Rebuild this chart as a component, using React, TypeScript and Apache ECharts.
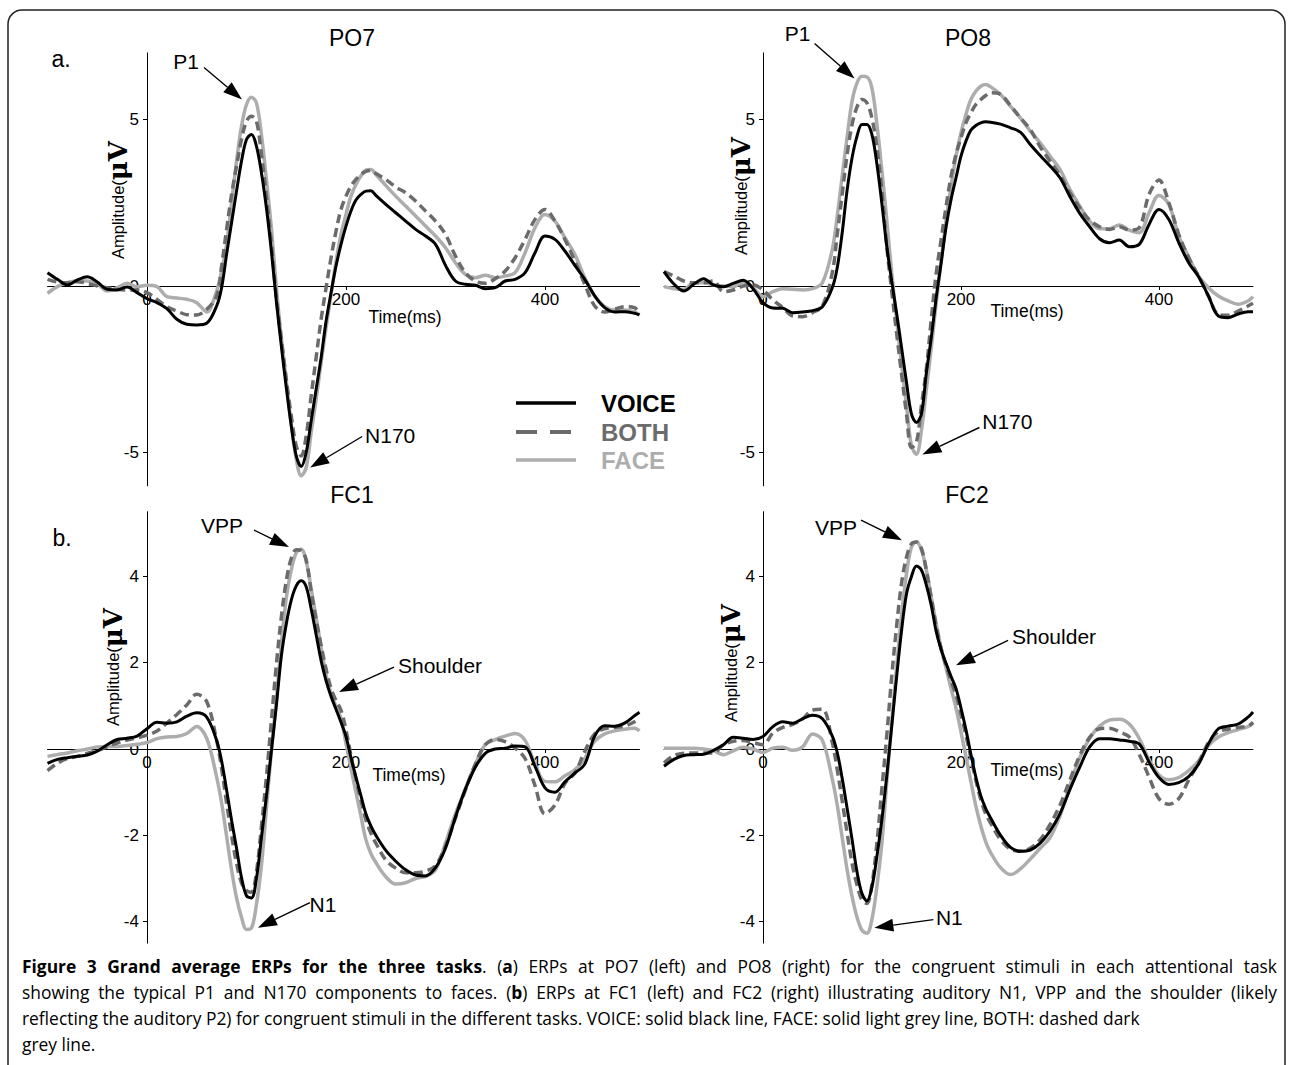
import React, { useEffect, useRef } from "react";
import * as echarts from "echarts";

// time axis (ms)
const times = [
  -100, -90, -80, -70, -60, -50, -40, -30, -20, -10,
  0, 10, 20, 30, 40, 50, 60,
  70, 75, 80, 85, 90, 95, 100, 105, 110, 115,
  120, 125, 130, 135, 140, 145, 150, 155, 160, 165,
  170, 175, 180, 185, 190, 195, 200, 205, 210, 215,
  220, 225, 230,
  240, 250, 260, 270, 280, 290, 300, 310, 320, 330,
  340, 350, 360, 370, 380, 390, 400, 410, 420, 430,
  440, 450, 460, 470, 480, 490,
  495,
];

// PO7
const po7Voice = [
  0.4, 0.2, 0.03, 0.18, 0.28, 0.12, -0.1, -0.12, -0.03, -0.2,
  -0.38, -0.5, -0.68, -1.0, -1.15, -1.17, -1.12,
  -0.6, -0.05, 0.95, 1.9, 2.85, 3.75, 4.4, 4.55, 4.2, 3.4,
  2.35, 1.05, -0.45, -1.8, -3.05, -4.2, -5.1, -5.42, -5.0, -4.05,
  -3.1, -2.15, -1.05, -0.2, 0.6, 1.25, 1.8, 2.25, 2.58, 2.75,
  2.85, 2.86, 2.72,
  2.45, 2.2, 1.95, 1.7, 1.5, 1.25, 0.62, 0.15, 0.05, 0.02,
  -0.08, -0.05, 0.15, 0.2, 0.4, 1.0, 1.5, 1.4, 1.05, 0.62,
  0.2, -0.3, -0.65, -0.78, -0.77, -0.82,
  -0.87,
];
const po7Both = [
  0.2, 0.12, 0.1, 0.13, 0.08, 0.0, -0.05, -0.1, -0.12, -0.12,
  -0.2, -0.4, -0.62, -0.75, -0.86, -0.87, -0.7,
  -0.3, 0.6, 1.7, 2.75, 3.6, 4.4, 4.95, 5.1, 4.95, 3.95,
  2.7, 1.27, -0.35, -1.6, -2.8, -3.9, -4.8, -5.1, -4.5, -3.3,
  -2.15, -1.0, -0.05, 0.85, 1.65, 2.3, 2.7, 3.0, 3.2, 3.35,
  3.44, 3.47, 3.38,
  3.2, 2.97, 2.8, 2.55, 2.25, 1.95, 1.55, 0.9, 0.4, 0.15,
  0.08, 0.22, 0.45, 0.85, 1.4, 2.0, 2.3, 1.95, 1.4, 0.75,
  0.05, -0.6, -0.78, -0.7, -0.62, -0.65,
  -0.82,
];
const po7Face = [
  -0.22, -0.02, 0.1, 0.16, 0.15, 0.07, -0.15, -0.05, 0.08, -0.02,
  0.02, -0.02, -0.32, -0.36, -0.4, -0.5, -0.78,
  -0.15, 0.45, 1.25, 2.5, 3.75, 4.8, 5.45, 5.67, 5.5, 4.55,
  3.2, 1.75, -0.05, -1.55, -2.85, -4.15, -5.2, -5.7, -5.45, -4.4,
  -3.4, -2.3, -1.25, -0.25, 0.75, 1.55, 2.15, 2.7, 3.05, 3.3,
  3.48, 3.5, 3.35,
  3.02, 2.7, 2.4, 2.1, 1.8, 1.5, 1.15, 0.7, 0.35, 0.25,
  0.32, 0.25, 0.3, 0.4, 1.0, 1.75, 2.15, 1.95, 1.45, 0.95,
  0.25, -0.3, -0.62, -0.72, -0.72, -0.78,
  -0.87,
];

// PO8
const po8Voice = [
  0.43, 0.06, -0.15, 0.05, 0.22, 0.03, -0.02, 0.08, 0.17, -0.08,
  -0.5, -0.66, -0.67, -0.8, -0.78, -0.74, -0.62,
  -0.05, 0.55, 1.6, 2.88, 3.85, 4.5, 4.85, 4.85, 4.55, 3.68,
  2.5, 1.2, 0.15, -0.82, -1.85, -2.9, -3.85, -4.1, -3.85, -2.62,
  -1.55, -0.35, 0.7, 1.78, 2.6, 3.25, 3.9, 4.35, 4.68, 4.82,
  4.9, 4.93, 4.92,
  4.86, 4.75, 4.62, 4.25, 3.92, 3.6, 3.25, 2.69, 2.18, 1.78,
  1.42, 1.3, 1.38, 1.18, 1.25, 1.85, 2.3, 2.0, 1.3, 0.7,
  0.28, -0.3, -0.9, -0.95, -0.84, -0.77,
  -0.77,
];
const po8Both = [
  0.43, 0.3, 0.15, 0.1, 0.1, 0.15, -0.17, -0.12, 0.0, 0.03,
  -0.12, -0.42, -0.65, -0.9, -0.92, -0.8, -0.6,
  0.4, 1.55, 2.75, 3.95, 4.85, 5.38, 5.6, 5.5, 5.05, 4.18,
  2.9, 1.2, -0.15, -1.42, -2.65, -3.85, -4.85, -4.7, -3.6, -2.5,
  -1.0, 0.38, 1.4, 2.4, 3.3, 3.95, 4.45, 4.9, 5.2, 5.45,
  5.6, 5.72, 5.8,
  5.75, 5.42, 5.05, 4.7, 4.18, 3.75, 3.33, 2.8, 2.35, 1.98,
  1.78, 1.7, 1.78, 1.68, 1.75, 2.75, 3.18, 2.5, 1.55, 0.85,
  0.3, -0.3, -0.85, -0.88, -0.75, -0.6,
  -0.52,
];
const po8Face = [
  -0.02, -0.08, -0.1, 0.1, 0.1, 0.03, 0.0, -0.02, 0.12, -0.05,
  -0.32, -0.17, -0.08, -0.1, -0.12, -0.08, 0.1,
  1.1, 2.1, 3.3, 4.48, 5.55, 6.1, 6.3, 6.28, 5.95, 4.88,
  3.5, 2.0, 0.4, -1.02, -2.35, -3.6, -4.8, -5.05, -4.35, -3.12,
  -1.85, -0.5, 0.75, 1.98, 3.0, 3.9, 4.6, 5.15, 5.6, 5.85,
  6.0, 6.05, 5.98,
  5.75, 5.4, 5.05, 4.65, 4.3, 3.9, 3.5, 2.9, 2.4, 1.95,
  1.72, 1.72, 1.83, 1.68, 1.6, 2.2, 2.72, 2.45, 1.5, 0.88,
  0.3, -0.05, -0.3, -0.45, -0.55, -0.45,
  -0.32,
];

// FC1
const fc1Voice = [
  -0.33, -0.24, -0.2, -0.17, -0.14, -0.05, 0.1, 0.22, 0.25, 0.3,
  0.47, 0.62, 0.6, 0.63, 0.76, 0.84, 0.74,
  0.2, -0.28, -0.95, -1.65, -2.3, -2.98, -3.4, -3.45, -3.0, -2.05,
  -1.1, -0.05, 1.0, 2.15, 2.9, 3.45, 3.78, 3.9, 3.76, 3.25,
  2.65, 2.05, 1.58, 1.22, 0.92, 0.62, 0.29, -0.2, -0.65, -1.08,
  -1.5, -1.78, -2.0,
  -2.35, -2.6, -2.8, -2.92, -2.94, -2.75, -2.3, -1.58, -0.93, -0.42,
  -0.1, 0.0, 0.02, 0.07, 0.05, -0.4, -0.9, -1.0, -0.76, -0.56,
  -0.35, 0.3, 0.54, 0.53, 0.6, 0.77,
  0.85,
];
const fc1Both = [
  -0.5, -0.33, -0.22, -0.17, -0.1, -0.04, 0.05, 0.14, 0.21, 0.26,
  0.32, 0.42, 0.6, 0.8, 1.02, 1.27, 1.1,
  0.2, -0.45, -1.25, -2.0, -2.65, -3.1, -3.28, -3.32, -2.85, -1.8,
  -0.65, 0.65, 1.95, 3.05, 3.9, 4.42, 4.62, 4.6, 4.38, 3.65,
  3.0, 2.4, 1.85, 1.4, 1.12, 0.9, 0.44, -0.15, -0.7, -1.18,
  -1.64, -1.95, -2.18,
  -2.57, -2.76, -2.87, -2.87, -2.83, -2.7, -2.25, -1.6, -0.95, -0.35,
  0.1, 0.22, 0.17, 0.02, -0.22, -0.85, -1.5, -1.3, -0.8, -0.56,
  -0.05, 0.35, 0.47, 0.5, 0.53, 0.63,
  0.72,
];
const fc1Face = [
  -0.17, -0.13, -0.09, -0.04, 0.0, 0.05, 0.06, 0.06, 0.08, 0.11,
  0.15, 0.24, 0.28, 0.29, 0.36, 0.52, 0.25,
  -0.65, -1.25, -2.02, -2.8, -3.45, -3.9, -4.18, -4.15, -3.6, -2.7,
  -1.38, -0.05, 1.15, 2.42, 3.5, 4.15, 4.55, 4.63, 4.35, 3.72,
  3.05, 2.35, 1.72, 1.28, 0.98, 0.7, 0.13, -0.45, -1.0, -1.55,
  -2.1, -2.42, -2.63,
  -2.96, -3.13, -3.1, -3.0, -2.95, -2.8, -2.18, -1.5, -0.92, -0.35,
  0.1, 0.22, 0.3, 0.36, 0.2, -0.35, -0.75, -0.76, -0.62, -0.48,
  -0.22, 0.18, 0.35, 0.42, 0.46, 0.48,
  0.42,
];

// FC2
const fc2Voice = [
  -0.4, -0.24, -0.15, -0.13, -0.12, -0.03, 0.1, 0.27, 0.25, 0.22,
  0.29, 0.52, 0.63, 0.6, 0.7, 0.78, 0.7,
  0.3, -0.08, -0.68, -1.38, -2.1, -2.85, -3.35, -3.52, -3.2, -2.5,
  -1.65, -0.63, 0.52, 1.67, 2.75, 3.6, 4.0, 4.24, 4.15, 3.8,
  3.33, 2.72, 2.3, 1.98, 1.68, 1.4, 0.95, 0.45, -0.12, -0.65,
  -1.08, -1.38, -1.6,
  -2.0, -2.28, -2.37, -2.34, -2.18, -1.9, -1.5, -0.94, -0.42, 0.05,
  0.24, 0.24, 0.21, 0.18, 0.12, -0.3, -0.66, -0.82, -0.78, -0.64,
  -0.35, 0.12, 0.47, 0.53, 0.58, 0.74,
  0.86,
];
const fc2Both = [
  -0.32, -0.15, -0.1, -0.09, -0.09, -0.09, 0.1, 0.18, 0.2, 0.15,
  0.1, 0.37, 0.5, 0.57, 0.7, 0.9, 0.92,
  0.15, -0.48, -1.2, -1.95, -2.65, -3.15, -3.5, -3.58, -3.15, -2.2,
  -0.95, 0.3, 1.67, 2.85, 3.85, 4.45, 4.76, 4.8, 4.65, 4.15,
  3.5, 2.85, 2.32, 1.93, 1.58, 1.25, 0.8, 0.32, -0.2, -0.72,
  -1.17, -1.5, -1.72,
  -2.1, -2.32, -2.37, -2.3, -2.1, -1.75, -1.3, -0.72, -0.15, 0.27,
  0.47, 0.48, 0.4, 0.28, -0.12, -0.65, -1.15, -1.28, -1.15, -0.72,
  -0.32, 0.15, 0.4, 0.46, 0.5, 0.53,
  0.62,
];
const fc2Face = [
  0.02, 0.02, 0.02, 0.02, 0.0, -0.04, -0.13, -0.04, 0.04, 0.0,
  -0.08, 0.02, 0.04, -0.03, 0.05, 0.35, 0.2,
  -0.7, -1.3, -2.05, -2.8, -3.42, -3.9, -4.2, -4.27, -3.95, -3.2,
  -2.2, -0.77, 0.6, 1.9, 3.1, 4.07, 4.68, 4.8, 4.62, 4.15,
  3.52, 2.9, 2.33, 1.87, 1.4, 0.95, 0.4, -0.17, -0.75, -1.32,
  -1.78, -2.15, -2.4,
  -2.75, -2.91, -2.78, -2.55, -2.3, -2.05, -1.55, -0.85, -0.2, 0.25,
  0.53, 0.67, 0.69, 0.58, 0.25, -0.25, -0.6, -0.71, -0.66, -0.5,
  -0.28, 0.08, 0.28, 0.38, 0.45, 0.52,
  0.6,
];

const legendNames = ["VOICE", "BOTH", "FACE"];
const xTickValues = [0, 200, 400];
const poYTicks = [-5, 0, 5];
const fcYTicks = [-4, -2, 0, 2, 4];

// caption: [bold?, text] segments per line
const captionLines: { justify: boolean; segs: [boolean, string][] }[] = [
  {
    justify: true,
    segs: [
      [true, "Figure 3 Grand average ERPs for the three tasks"],
      [false, ". ("],
      [true, "a"],
      [false, ") ERPs at PO7 (left) and PO8 (right) for the congruent stimuli in each attentional task"],
    ],
  },
  {
    justify: true,
    segs: [
      [false, "showing the typical P1 and N170 components to faces. ("],
      [true, "b"],
      [false, ") ERPs at FC1 (left) and FC2 (right) illustrating auditory N1, VPP and the shoulder (likely"],
    ],
  },
  {
    justify: false,
    segs: [[false, "reflecting the auditory P2) for congruent stimuli in the different tasks. VOICE: solid black line, FACE: solid light grey line, BOTH: dashed dark"]],
  },
  { justify: false, segs: [[false, "grey line."]] },
];

const FONT = "'Liberation Sans', Arial, Helvetica, sans-serif";
const CAP_FONT = "'Open Sans', 'Noto Sans', sans-serif";
const CAP_SIZE = 17.4;
const C_VOICE = "#000000";
const C_BOTH = "#6b6b6b";
const C_FACE = "#adadad";
const X_MIN = -100;
const X_MAX = 495;

const panels = [
  {
    title: "PO7", voice: po7Voice, both: po7Both, face: po7Face, yMin: -6, yMax: 7, yTicks: poYTicks,
    box: { left: 47.5, top: 52.9, width: 592, height: 432.9 },
    titlePos: [352, 38], timePos: [405, 317], ampPos: [118, 200],
  },
  {
    title: "PO8", voice: po8Voice, both: po8Both, face: po8Face, yMin: -6, yMax: 7, yTicks: poYTicks,
    box: { left: 664, top: 52.9, width: 589, height: 432.9 },
    titlePos: [968, 38], timePos: [1027, 311], ampPos: [741, 196],
  },
  {
    title: "FC1", voice: fc1Voice, both: fc1Both, face: fc1Face, yMin: -4.5, yMax: 5.5, yTicks: fcYTicks,
    box: { left: 47.5, top: 511.7, width: 592, height: 431.5 },
    titlePos: [352, 495], timePos: [409, 775], ampPos: [113, 667],
  },
  {
    title: "FC2", voice: fc2Voice, both: fc2Both, face: fc2Face, yMin: -4.5, yMax: 5.5, yTicks: fcYTicks,
    box: { left: 664, top: 511.7, width: 589, height: 431.5 },
    titlePos: [967, 495], timePos: [1027, 770], ampPos: [731, 663],
  },
];

const annotations = [
  { panel: 0, text: "P1", tip: [95.5, 5.6], tail: [-38, -32], label: [-56, -38] },
  { panel: 0, text: "N170", tip: [164, -5.45], tail: [52, -31], label: [80, -32] },
  { panel: 1, text: "P1", tip: [92.5, 6.23], tail: [-40, -35], label: [-57, -45] },
  { panel: 1, text: "N170", tip: [161, -5.06], tail: [57, -27], label: [85, -33] },
  { panel: 2, text: "VPP", tip: [142.7, 4.68], tail: [-35, -17], label: [-67, -22] },
  { panel: 2, text: "Shoulder", tip: [193, 1.32], tail: [55, -25], label: [101, -27] },
  { panel: 2, text: "N1", tip: [111.5, -4.14], tail: [52, -25], label: [65, -23] },
  { panel: 3, text: "VPP", tip: [140.4, 4.84], tail: [-41, -20], label: [-66, -13] },
  { panel: 3, text: "Shoulder", tip: [195, 1.94], tail: [52, -25], label: [98, -29] },
  { panel: 3, text: "N1", tip: [112.5, -4.14], tail: [59, -8], label: [75, -10] },
];

function txt(x: number, y: number, text: string, size: number, extra: any = {}) {
  const weight = extra.weight || "normal";
  const family = extra.family || FONT;
  return {
    type: "text",
    x,
    y,
    silent: true,
    style: {
      text,
      fill: extra.fill || "#000",
      font: `${weight} ${size}px ${family}`,
      fontSize: size,
      fontFamily: family,
      fontWeight: weight,
      align: extra.align || "center",
      textAlign: extra.align || "center",
      verticalAlign: "middle",
      textVerticalAlign: "middle",
    },
  };
}

export default function App() {
  const ref = useRef<HTMLDivElement>(null);

  useEffect(() => {
    if (!ref.current) return;
    const chart = echarts.init(ref.current, null, { renderer: "svg" });

    const grids = panels.map((p) => ({ ...p.box, containLabel: false }));
    const xAxes = panels.map((p, i) => ({
      type: "value",
      gridIndex: i,
      min: X_MIN,
      max: X_MAX,
      position: "bottom",
      offset: -((0 - p.yMin) / (p.yMax - p.yMin)) * p.box.height,
      axisLine: { onZero: false, lineStyle: { color: "#000", width: 1 } },
      axisTick: { show: true, customValues: xTickValues, length: 4, lineStyle: { color: "#000" } },
      axisLabel: { customValues: xTickValues, color: "#000", fontSize: 17, fontFamily: FONT, margin: 5 },
      splitLine: { show: false },
    }));
    const yAxes = panels.map((p, i) => ({
      type: "value",
      gridIndex: i,
      min: p.yMin,
      max: p.yMax,
      position: "left",
      offset: -((0 - X_MIN) / (X_MAX - X_MIN)) * p.box.width,
      axisLine: { onZero: false, lineStyle: { color: "#000", width: 1 } },
      axisTick: { show: true, customValues: p.yTicks, length: 4, lineStyle: { color: "#000" } },
      axisLabel: { customValues: p.yTicks, color: "#000", fontSize: 17, fontFamily: FONT, margin: 8 },
      splitLine: { show: false },
    }));

    const series: any[] = [];
    panels.forEach((p, i) => {
      const mk = (name: string, arr: number[], color: string, width: number, type: any, z: number) => ({
        type: "line",
        name,
        xAxisIndex: i,
        yAxisIndex: i,
        data: times.map((t, k) => [t, arr[k]]),
        showSymbol: false,
        symbol: "none",
        smooth: 0.35,
        silent: true,
        z,
        lineStyle: { color, width, type },
        itemStyle: { color },
      });
      series.push(mk(legendNames[2], p.face, C_FACE, 3.5, "solid", 2));
      series.push(mk(legendNames[1], p.both, C_BOTH, 3.5, [9, 5], 3));
      series.push(mk(legendNames[0], p.voice, C_VOICE, 3, "solid", 4));
    });

    chart.setOption({
      animation: false,
      backgroundColor: "#ffffff",
      grid: grids,
      xAxis: xAxes,
      yAxis: yAxes,
      series,
    });

    const g: any[] = [];
    g.push({
      type: "rect",
      silent: true,
      shape: { x: 8, y: 10, width: 1277, height: 1075, r: [14, 14, 0, 0] },
      style: { fill: "none", stroke: "#222", lineWidth: 1.5 },
    });
    g.push(txt(61, 59, "a.", 23));
    g.push(txt(62, 538, "b.", 23));

    panels.forEach((p) => {
      g.push(txt(p.titlePos[0], p.titlePos[1], p.title, 23));
      g.push(txt(p.timePos[0], p.timePos[1], "Time(ms)", 17.5));
      g.push({
        type: "text",
        x: p.ampPos[0],
        y: p.ampPos[1],
        rotation: Math.PI / 2,
        silent: true,
        style: {
          text: "{a|Amplitude(}{m|μV}",
          align: "center",
          textAlign: "center",
          verticalAlign: "middle",
          textVerticalAlign: "middle",
          rich: {
            a: { fontSize: 16.5, fontFamily: FONT, fill: "#000", color: "#000", verticalAlign: "middle" },
            m: {
              fontSize: 26,
              fontFamily: "'DejaVu Serif', serif",
              fontWeight: "bold",
              fill: "#000",
              color: "#000",
              verticalAlign: "middle",
            },
          },
        },
      });
    });

    // legend
    const legendRows = [
      { name: legendNames[0], color: C_VOICE, dash: null as any, y: 403, w: 3.5 },
      { name: legendNames[1], color: C_BOTH, dash: [21, 13], y: 432, w: 4 },
      { name: legendNames[2], color: C_FACE, dash: null as any, y: 460, w: 3.5 },
    ];
    legendRows.forEach((r) => {
      g.push({
        type: "line",
        silent: true,
        shape: { x1: 516, y1: r.y, x2: 576, y2: r.y },
        style: { stroke: r.color, lineWidth: r.w, lineDash: r.dash },
      });
      g.push(txt(601, r.y, r.name, 24, { align: "left", weight: "bold", fill: r.color }));
    });

    // annotations with arrows, anchored to data coordinates
    annotations.forEach((a) => {
      const pt = chart.convertToPixel({ gridIndex: a.panel } as any, a.tip) as number[];
      if (!pt) return;
      const [px, py] = pt;
      const tx = px + a.tail[0];
      const ty = py + a.tail[1];
      const dx = px - tx;
      const dy = py - ty;
      const len = Math.sqrt(dx * dx + dy * dy) || 1;
      const ux = dx / len;
      const uy = dy / len;
      const L = 19;
      const W = 6.5;
      const bx = px - ux * L;
      const by = py - uy * L;
      const nx = -uy;
      const ny = ux;
      g.push({
        type: "line",
        silent: true,
        shape: { x1: tx, y1: ty, x2: bx, y2: by },
        style: { stroke: "#000", lineWidth: 1.4 },
      });
      g.push({
        type: "polygon",
        silent: true,
        shape: { points: [[px, py], [bx + nx * W, by + ny * W], [bx - nx * W, by - ny * W]] },
        style: { fill: "#000" },
      });
      g.push(txt(px + a.label[0], py + a.label[1], a.text, 21));
    });

    // caption (justified lines laid out word by word)
    const canvas = document.createElement("canvas");
    const ctx = canvas.getContext("2d");
    const fontOf = (bold: boolean) => `${bold ? "bold " : ""}${CAP_SIZE}px ${CAP_FONT}`;
    const measure = (s: string, bold: boolean) => {
      if (!ctx) return s.length * CAP_SIZE * 0.5;
      ctx.font = fontOf(bold);
      return ctx.measureText(s).width;
    };
    const capX0 = 22;
    const capX1 = 1277;
    const capY = [966, 992, 1018, 1044];
    captionLines.forEach((line, li) => {
      const words: [boolean, string][][] = [[]];
      line.segs.forEach(([bold, text]) => {
        const parts = text.split(" ");
        parts.forEach((part, j) => {
          if (j > 0) words.push([]);
          if (part !== "") words[words.length - 1].push([bold, part]);
        });
      });
      const ws = words.filter((w) => w.length > 0);
      const widths = ws.map((w) => w.reduce((s, [b, t]) => s + measure(t, b), 0));
      const total = widths.reduce((s, v) => s + v, 0);
      const space = measure(" ", false);
      const gap = line.justify && ws.length > 1 ? (capX1 - capX0 - total) / (ws.length - 1) : space;
      let x = capX0;
      ws.forEach((w, wi) => {
        let xx = x;
        w.forEach(([b, t]) => {
          g.push(txt(xx, capY[li], t, CAP_SIZE, { align: "left", weight: b ? "bold" : "normal", family: CAP_FONT }));
          xx += measure(t, b);
        });
        x += widths[wi] + gap;
      });
    });

    chart.setOption({ graphic: { elements: g } });

    return () => {
      chart.dispose();
    };
  }, []);

  return (
    <div
      ref={ref}
      style={{ position: "absolute", left: 0, top: 0, width: 1293, height: 1065, background: "#fff" }}
    />
  );
}
